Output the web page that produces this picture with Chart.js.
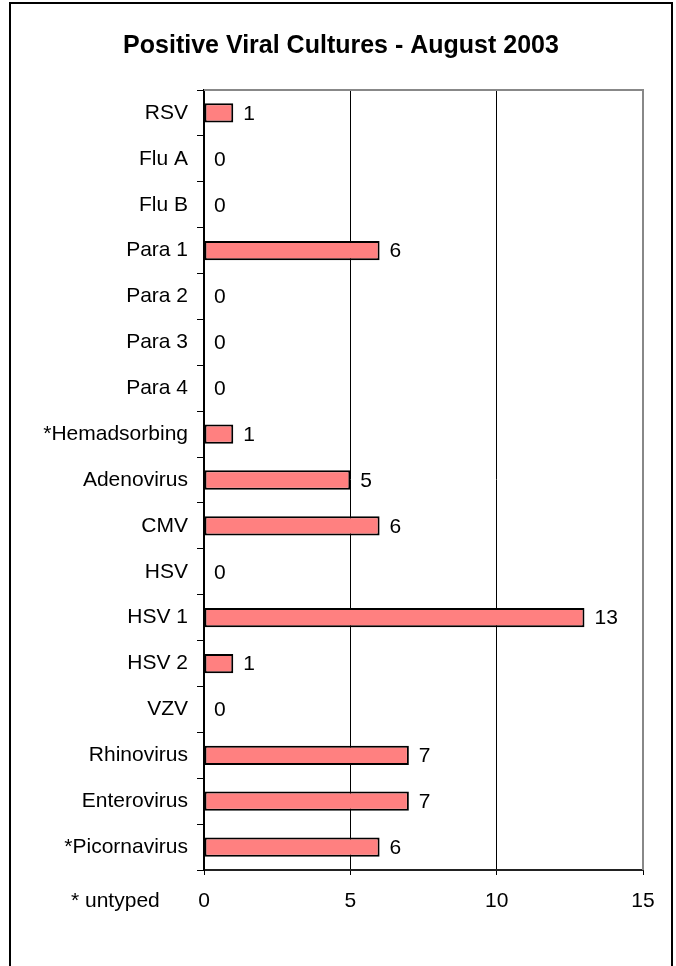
<!DOCTYPE html>
<html>
<head>
<meta charset="utf-8">
<script src="https://cdn.jsdelivr.net/npm/chart.js@4/dist/chart.umd.min.js"></script>
<style>
  body { margin: 0; background: #fff; }
  #wrap { position: relative; width: 676px; height: 966px; overflow: hidden; }
  #frame {
    position: absolute; left: 9px; top: 2px; width: 664px; height: 1000px;
    box-sizing: border-box; border: 2px solid #000; pointer-events: none;
  }
  canvas { position: absolute; left: 0; top: 0; }
</style>
</head>
<body>
<div id="wrap">
  <canvas id="virusChart" width="676" height="966"></canvas>
  <div id="frame"></div>
</div>
<script>
const categories = ["RSV", "Flu A", "Flu B", "Para 1", "Para 2", "Para 3", "Para 4",
  "*Hemadsorbing", "Adenovirus", "CMV", "HSV", "HSV 1", "HSV 2", "VZV",
  "Rhinovirus", "Enterovirus", "*Picornavirus"];
const cultures = [1, 0, 0, 6, 0, 0, 0, 1, 5, 6, 0, 13, 1, 0, 7, 7, 6];
const xTicks = [0, 5, 10, 15];
const chartTitle = "Positive Viral Cultures - August 2003";
const footnote = "* untyped";

const fontFamily = '"Liberation Sans", Arial, sans-serif';
Chart.defaults.font.family = fontFamily;
Chart.defaults.color = "#000";

// value labels to the right of each bar
const valueLabels = {
  id: "valueLabels",
  afterDatasetsDraw(chart) {
    const ctx = chart.ctx;
    const meta = chart.getDatasetMeta(0);
    ctx.save();
    ctx.font = "21px " + fontFamily;
    ctx.fillStyle = "#000";
    ctx.textAlign = "left";
    ctx.textBaseline = "middle";
    meta.data.forEach((bar, i) => {
      ctx.fillText(String(cultures[i]), bar.x + 10, bar.y + 1);
    });
    ctx.restore();
  }
};

// title, gray plot-area border on top and right, and the footnote
const plotFrame = {
  id: "plotFrame",
  afterDraw(chart) {
    const { ctx, chartArea } = chart;
    ctx.save();
    ctx.strokeStyle = "#888";
    ctx.lineWidth = 2;
    ctx.beginPath();
    ctx.moveTo(chartArea.left, chartArea.top);
    ctx.lineTo(chartArea.right, chartArea.top);
    ctx.lineTo(chartArea.right, chartArea.bottom);
    ctx.stroke();

    ctx.fillStyle = "#000";
    ctx.textBaseline = "middle";
    ctx.font = "bold 25px " + fontFamily;
    ctx.textAlign = "center";
    ctx.fillText(chartTitle, 341, 46);

    ctx.font = "21px " + fontFamily;
    ctx.textAlign = "left";
    ctx.fillText(footnote, 71, 901);
    ctx.restore();
  }
};

new Chart(document.getElementById("virusChart"), {
  type: "bar",
  data: {
    labels: categories,
    datasets: [{
      data: cultures,
      backgroundColor: "#FF8080",
      borderColor: "#000",
      borderWidth: 2,
      borderSkipped: false,
      barPercentage: 0.42,
      categoryPercentage: 1
    }]
  },
  options: {
    indexAxis: "y",
    responsive: false,
    animation: false,
    layout: { padding: { left: 0, right: 33, top: 90, bottom: 0 } },
    plugins: {
      legend: { display: false },
      tooltip: { enabled: false },
      title: { display: false }
    },
    scales: {
      x: {
        min: 0,
        max: 15,
        afterBuildTicks(scale) {
          scale.ticks = xTicks.map(v => ({ value: v }));
        },
        afterFit(scale) { scale.height = 96; },
        border: { display: true, color: "#222", width: 2 },
        grid: {
          color: c => (c.tick && (c.tick.value === 5 || c.tick.value === 10)) ? "#000" : "rgba(0,0,0,0)",
          tickColor: "#000",
          tickLength: 5,
          lineWidth: 1
        },
        ticks: { font: { size: 21 }, padding: 14, maxRotation: 0 }
      },
      y: {
        afterFit(scale) { scale.width = 204; },
        border: { display: true, color: "#000", width: 2 },
        grid: {
          offset: true,
          color: "rgba(0,0,0,0)",
          tickColor: "#000",
          tickLength: 7
        },
        ticks: { font: { size: 21 }, padding: 9, autoSkip: false }
      }
    }
  },
  plugins: [valueLabels, plotFrame]
});
</script>
</body>
</html>
